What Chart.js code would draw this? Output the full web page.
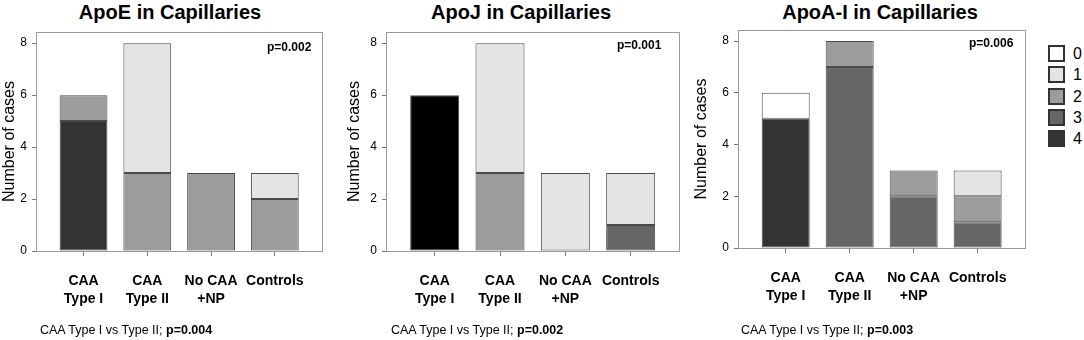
<!DOCTYPE html>
<html>
<head>
<meta charset="utf-8">
<script src="https://cdn.jsdelivr.net/npm/chart.js@4.4.1/dist/chart.umd.min.js"></script>
<style>
  body { margin: 0; width: 1084px; height: 340px; background: #fff; position: relative; overflow: hidden;
         font-family: 'Liberation Sans', Arial, sans-serif; color: #000; }
  canvas { position: absolute; top: 0; }
  .title { position: absolute; top: 0; line-height: 24px; font-size: 20px; font-weight: bold;
           transform: translateX(-50%); white-space: nowrap; }
  .pval { position: absolute; line-height: 14px; font-size: 12px; font-weight: bold; white-space: nowrap; }
  .cmp { position: absolute; top: 323px; line-height: 14px; font-size: 12.5px; white-space: nowrap; }
  .legend { position: absolute; left: 1048px; top: 45px; }
  .legend div { height: 21.25px; display: flex; align-items: flex-start; font-size: 16px; line-height: 17px; }
  .legend span.box { width: 17px; height: 17px; box-sizing: border-box; border: 2px solid #333; margin-right: 8px; }
</style>
</head>
<body>
<div class="title" style="left:170px">ApoE in Capillaries</div>
<div class="title" style="left:521px">ApoJ in Capillaries</div>
<div class="title" style="left:880px">ApoA-I in Capillaries</div>

<canvas id="apoe" width="340" height="340" style="left:0px"></canvas>
<canvas id="apoj" width="345" height="340" style="left:345px"></canvas>
<canvas id="apoa1" width="348" height="340" style="left:692px"></canvas>

<div class="pval" style="left:267px;top:40px">p=0.002</div>
<div class="pval" style="left:617px;top:38px">p=0.001</div>
<div class="pval" style="left:969px;top:36px">p=0.006</div>

<div class="cmp" style="left:40px">CAA Type I vs Type II; <b>p=0.004</b></div>
<div class="cmp" style="left:391px">CAA Type I vs Type II; <b>p=0.002</b></div>
<div class="cmp" style="left:741px">CAA Type I vs Type II; <b>p=0.003</b></div>

<div class="legend" id="legend"></div>

<script>
// categories on the x axis
const CATEGORIES = [['CAA', 'Type I'], ['CAA', 'Type II'], ['No CAA', '+NP'], ['Controls']];
// staining score classes (legend)
const SCORES = ['0', '1', '2', '3', '4'];
const SCORE_COLORS = ['#ffffff', '#e4e4e4', '#9c9c9c', '#666666', '#333333'];
const APOJ_COLORS = ['#ffffff', '#e4e4e4', '#9c9c9c', '#666666', '#000000'];
const Y_TICKS = [0, 2, 4, 6, 8];

// number of cases, one row per score 0..4, one column per category
const APOE_CASES = [
  [0, 0, 0, 0],
  [0, 5, 0, 1],
  [1, 3, 3, 2],
  [0, 0, 0, 0],
  [5, 0, 0, 0]
];
const APOJ_CASES = [
  [0, 0, 0, 0],
  [0, 5, 3, 2],
  [0, 3, 0, 0],
  [0, 0, 0, 1],
  [6, 0, 0, 0]
];
const APOA1_CASES = [
  [1, 0, 0, 0],
  [0, 0, 0, 1],
  [0, 1, 1, 1],
  [0, 7, 2, 1],
  [5, 0, 0, 0]
];

const FONT = "'Liberation Sans', Arial, sans-serif";

// grey frame round the plot area
const framePlugin = {
  id: 'frame',
  afterDatasetsDraw(chart) {
    const { ctx, chartArea: a } = chart;
    ctx.save();
    ctx.strokeStyle = '#9a9a9a';
    ctx.lineWidth = 1;
    ctx.strokeRect(Math.round(a.left) - 0.5, Math.round(a.top) + 0.5,
                   Math.round(a.width) + 1, Math.round(a.height));
    ctx.restore();
  }
};

function makePanel(id, cases, colors, yWidth, padRight, padTop, xHeight) {
  // score 4 at the bottom of the stack, score 0 on top
  const order = [4, 3, 2, 1, 0];
  new Chart(document.getElementById(id), {
    type: 'bar',
    data: {
      datasets: order.map(s => ({
        label: SCORES[s],
        data: cases[s].map((v, i) => ({ x: i, y: v || null })),
        backgroundColor: colors[s],
        borderColor: '#4a4a4a',
        borderWidth: 1,
        borderSkipped: false,
        categoryPercentage: 1,
        barPercentage: 0.75
      }))
    },
    options: {
      responsive: false,
      animation: false,
      layout: { padding: { left: 0, right: padRight, top: padTop, bottom: 0 } },
      plugins: { legend: { display: false }, tooltip: { enabled: false } },
      scales: {
        x: {
          type: 'linear', stacked: true, offset: false, min: -0.73, max: 3.74,
          afterBuildTicks: sc => { sc.ticks = CATEGORIES.map((c, i) => ({ value: i })); },
          afterFit: sc => { sc.height = xHeight; },
          border: { display: false },
          grid: { drawOnChartArea: false, offset: false, tickLength: 5, color: '#777' },
          ticks: {
            padding: 16, color: '#000', maxRotation: 0, autoSkip: false,
            font: { family: FONT, size: 14, weight: 'bold', lineHeight: 1.3 },
            callback: v => CATEGORIES[v]
          }
        },
        y: {
          stacked: true, min: 0, max: 8.43,
          afterBuildTicks: sc => { sc.ticks = Y_TICKS.map(v => ({ value: v })); },
          afterFit: sc => { sc.width = yWidth; },
          border: { display: false },
          grid: { drawOnChartArea: false, tickLength: 5, color: '#777' },
          ticks: { padding: 5, color: '#000', font: { family: FONT, size: 12 } },
          title: { display: true, text: 'Number of cases', color: '#000', padding: 0,
                   font: { family: FONT, size: 16 } }
        }
      }
    },
    plugins: [framePlugin]
  });
}

makePanel('apoe', APOE_CASES, SCORE_COLORS, 37, 18, 32, 89);
makePanel('apoj', APOJ_CASES, APOJ_COLORS, 42, 11, 32, 89);
makePanel('apoa1', APOA1_CASES, SCORE_COLORS, 47, 15, 30, 92);

// legend built from the score classes
const legend = document.getElementById('legend');
SCORES.forEach((s, i) => {
  const row = document.createElement('div');
  row.innerHTML = `<span class="box" style="background:${SCORE_COLORS[i]}"></span><span>${s}</span>`;
  legend.appendChild(row);
});
</script>
</body>
</html>
